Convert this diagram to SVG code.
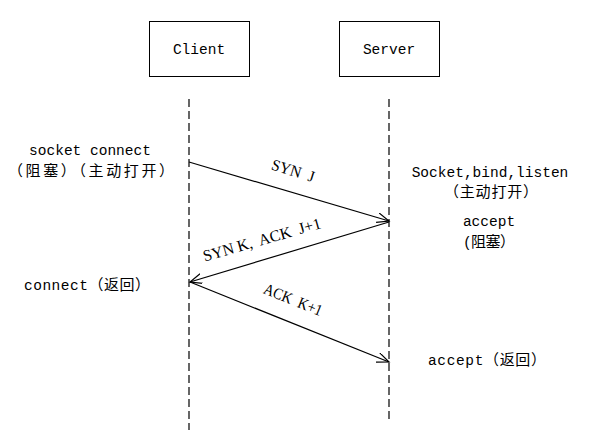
<svg xmlns="http://www.w3.org/2000/svg" width="595" height="440" viewBox="0 0 595 440">
<defs>
<style>
.box{fill:#fff;stroke:#000;stroke-width:1}
.life{stroke:#000;stroke-width:1.2;stroke-dasharray:8 4;fill:none}
.msg{stroke:#000;stroke-width:1.2;fill:none;marker-end:url(#arr)}
.t{font-family:"Liberation Mono","Noto Sans CJK SC",monospace;font-size:14.5px;fill:#000}
.c{font-family:"Noto Sans CJK SC",sans-serif;font-size:15px}
.lbl{font-family:"Liberation Serif","Noto Sans CJK SC",serif;font-size:16px;fill:#000;text-anchor:middle}
</style>
<marker id="arr" markerUnits="userSpaceOnUse" markerWidth="14" markerHeight="12" refX="12" refY="5" orient="auto">
<path d="M0,0 L12,5 L0,10" fill="none" stroke="#000" stroke-width="1.2"/>
</marker>
</defs>
<rect width="595" height="440" fill="#fff"/>
<g id="client">
<rect class="box" x="149.5" y="21.5" width="100" height="55"/>
<text class="t" x="199" y="54" text-anchor="middle">Client</text>
</g>
<g id="server">
<rect class="box" x="339.5" y="21.5" width="100" height="55"/>
<text class="t" x="389" y="54" text-anchor="middle">Server</text>
</g>
<g id="connectors">
<line class="life" x1="189" y1="99" x2="189" y2="430"/>
<line class="life" x1="389" y1="99" x2="389" y2="423"/>
<line class="msg" x1="189" y1="162" x2="389" y2="221"/>
<line class="msg" x1="389" y1="222" x2="190" y2="282"/>
<line class="msg" x1="190" y1="282" x2="389" y2="362"/>
<text class="lbl" xml:space="preserve" transform="translate(293,171) rotate(17)" y="5" textLength="44" lengthAdjust="spacingAndGlyphs">SYN  J</text>
<text class="lbl" xml:space="preserve" transform="translate(262,240) rotate(-16)" y="5" textLength="122" lengthAdjust="spacingAndGlyphs">SYN K,  ACK  J+1</text>
<text class="lbl" xml:space="preserve" transform="translate(293,300) rotate(22)" y="5" textLength="62" lengthAdjust="spacingAndGlyphs">ACK  K+1</text>
</g>
<g id="client-notes">
<text class="t" x="90" y="155" text-anchor="middle">socket connect</text>
<text class="t" x="91" y="176" text-anchor="middle" textLength="166" lengthAdjust="spacing"><tspan class="c">（阻塞）（主动打开）</tspan></text>
<text class="t" x="24" y="290" textLength="126" lengthAdjust="spacing">connect<tspan class="c">（返回）</tspan></text>
</g>
<g id="server-notes">
<text class="t" x="490" y="177" text-anchor="middle">Socket,bind,listen</text>
<text class="t" x="491" y="197" text-anchor="middle" textLength="94" lengthAdjust="spacing"><tspan class="c">（主动打开）</tspan></text>
<text class="t" x="489" y="226" text-anchor="middle">accept</text>
<text class="t" x="489" y="247" text-anchor="middle" textLength="52" lengthAdjust="spacing">(<tspan class="c">阻塞）</tspan></text>
<text class="t" x="428" y="365" textLength="118" lengthAdjust="spacing">accept<tspan class="c">（返回）</tspan></text>
</g>
</svg>
